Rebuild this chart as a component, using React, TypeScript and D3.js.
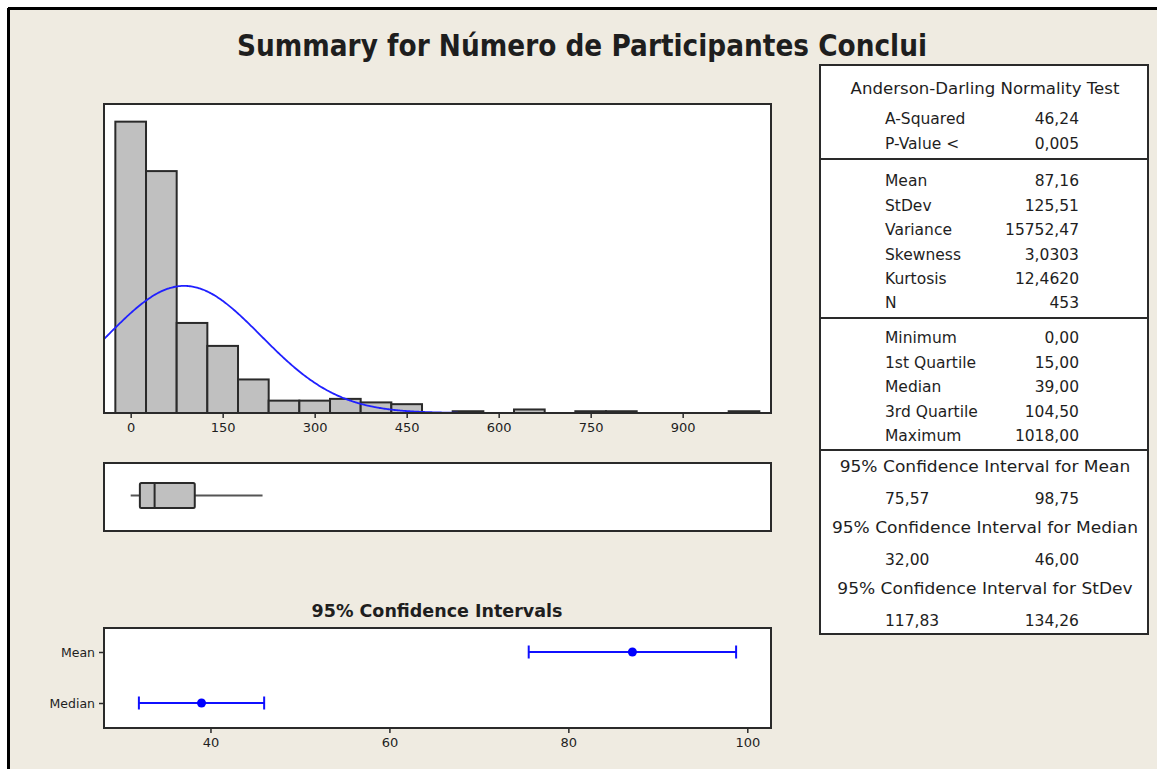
import React, { useEffect, useRef } from "react";
import * as d3 from "d3";

// histogram bins (width 50, centred on multiples of 50)
const binStarts = [-25, 25, 75, 125, 175, 225, 275, 325, 375, 425, 475, 525, 575, 625, 675, 725, 775, 825, 875, 925, 975];
const binCounts = [165, 137, 51, 38, 19, 7, 7, 8, 6, 5, 0, 1, 0, 2, 0, 1, 1, 0, 0, 0, 1];
const histTicks = [0, 150, 300, 450, 600, 750, 900];

// fitted normal
const fitMean = 87.16;
const fitSd = 125.51;
const fitN = 453;

// box plot: low whisker, Q1, median, Q3, high whisker
const boxValues = [0, 15, 39, 104.5, 215];

// 95% confidence intervals
const ciLabels = ["Mean", "Median"];
const ciCenters = [87.16, 39];
const ciLower = [75.57, 32];
const ciUpper = [98.75, 46];
const ciTicks = [40, 60, 80, 100];

// summary table
const adLabels = ["A-Squared", "P-Value <"];
const adValues = ["46,24", "0,005"];
const momentLabels = ["Mean", "StDev", "Variance", "Skewness", "Kurtosis", "N"];
const momentValues = ["87,16", "125,51", "15752,47", "3,0303", "12,4620", "453"];
const quantLabels = ["Minimum", "1st Quartile", "Median", "3rd Quartile", "Maximum"];
const quantValues = ["0,00", "15,00", "39,00", "104,50", "1018,00"];
const ciTitles = ["95% Confidence Interval for Mean", "95% Confidence Interval for Median", "95% Confidence Interval for StDev"];
const ciTableLow = ["75,57", "32,00", "117,83"];
const ciTableHigh = ["98,75", "46,00", "134,26"];

const FONT = "'DejaVu Sans', Verdana, sans-serif";
const INK = "#1e1e1e";

const App: React.FC = () => {
  const svgRef = useRef<SVGSVGElement | null>(null);

  useEffect(() => {
    if (!svgRef.current) return;
    const svg = d3.select(svgRef.current);
    svg.selectAll("*").remove();

    // background + frame
    svg.append("rect").attr("width", 1157).attr("height", 769).attr("fill", "#ffffff");
    svg.append("rect").attr("x", 8).attr("y", 8).attr("width", 1149).attr("height", 761).attr("fill", "#efebe1");
    svg.append("line").attr("x1", 8).attr("x2", 1157).attr("y1", 8.5).attr("y2", 8.5).attr("stroke", "#000").attr("stroke-width", 3);
    svg.append("line").attr("x1", 8.5).attr("x2", 8.5).attr("y1", 8).attr("y2", 769).attr("stroke", "#000").attr("stroke-width", 3);

    svg.append("text")
      .attr("x", 237).attr("y", 56)
      .attr("textLength", 690).attr("lengthAdjust", "spacingAndGlyphs")
      .attr("font-family", FONT).attr("font-weight", "bold").attr("font-size", 30)
      .attr("fill", INK)
      .text("Summary for Número de Participantes Conclui");

    const panel = (x0: number, y0: number, x1: number, y1: number) =>
      svg.append("rect").attr("x", x0).attr("y", y0).attr("width", x1 - x0).attr("height", y1 - y0)
        .attr("fill", "#fff").attr("stroke", "#2a2a2a").attr("stroke-width", 2);

    // ---------- histogram ----------
    const hx0 = 104, hx1 = 771, hy0 = 104, hy1 = 413;
    const x = d3.scaleLinear().domain([-43.5, 1044]).range([hx0, hx1]);
    const y = d3.scaleLinear().domain([0, 175]).range([hy1, hy0]);
    panel(hx0, hy0, hx1, hy1);

    const hist = svg.append("g");
    hist.selectAll("rect")
      .data(binStarts.map((s, i) => ({ s, c: binCounts[i] })).filter(d => d.c > 0))
      .enter().append("rect")
      .attr("x", d => x(d.s))
      .attr("width", d => x(d.s + 50) - x(d.s))
      .attr("y", d => y(d.c))
      .attr("height", d => hy1 - y(d.c))
      .attr("fill", "#c0c0c0").attr("stroke", "#2a2a2a").attr("stroke-width", 2);

    const curvePts = d3.range(-43.5, 1044, 2).map(v => {
      const z = (v - fitMean) / fitSd;
      return [v, (fitN * 50 * Math.exp(-0.5 * z * z)) / (fitSd * Math.sqrt(2 * Math.PI))] as [number, number];
    });
    hist.append("path")
      .attr("d", d3.line<[number, number]>().x(d => x(d[0])).y(d => y(d[1])).curve(d3.curveBasis)(curvePts) || "")
      .attr("fill", "none").attr("stroke", "#2020ff").attr("stroke-width", 1.8);

    svg.append("rect").attr("x", hx0).attr("y", hy0).attr("width", hx1 - hx0).attr("height", hy1 - hy0)
      .attr("fill", "none").attr("stroke", "#2a2a2a").attr("stroke-width", 2);

    const hAxis = svg.append("g").attr("transform", `translate(0,${hy1})`)
      .call(d3.axisBottom(x).tickValues(histTicks).tickSize(5).tickPadding(5).tickSizeOuter(0));
    hAxis.select(".domain").remove();
    hAxis.selectAll("line").attr("stroke", "#2a2a2a").attr("stroke-width", 1.5);
    hAxis.selectAll("text").attr("font-family", FONT).attr("font-size", 13).attr("fill", INK);

    // ---------- box plot ----------
    panel(104, 463, 771, 531);
    const by0 = 483, by1 = 508, bm = (by0 + by1) / 2;
    const [wLo, q1, med, q3, wHi] = boxValues;
    svg.append("line").attr("x1", x(wLo)).attr("x2", x(q1)).attr("y1", bm).attr("y2", bm).attr("stroke", "#555").attr("stroke-width", 2);
    svg.append("line").attr("x1", x(q3)).attr("x2", x(wHi)).attr("y1", bm).attr("y2", bm).attr("stroke", "#555").attr("stroke-width", 2);
    svg.append("rect").attr("x", x(q1)).attr("y", by0).attr("width", x(q3) - x(q1)).attr("height", by1 - by0)
      .attr("fill", "#c0c0c0").attr("stroke", "#2a2a2a").attr("stroke-width", 2).attr("rx", 1.5);
    svg.append("line").attr("x1", x(med)).attr("x2", x(med)).attr("y1", by0).attr("y2", by1).attr("stroke", "#2a2a2a").attr("stroke-width", 2);

    // ---------- confidence intervals ----------
    svg.append("text").attr("x", 437).attr("y", 617).attr("text-anchor", "middle")
      .attr("font-family", FONT).attr("font-weight", "bold").attr("font-size", 17.5).attr("fill", INK)
      .text("95% Confidence Intervals");
    const cx0 = 104, cx1 = 771, cy0 = 628, cy1 = 728;
    panel(cx0, cy0, cx1, cy1);
    const cx = d3.scaleLinear().domain([28.1, 102.65]).range([cx0, cx1]);
    const cy = d3.scalePoint().domain(ciLabels).range([652, 703]);

    const ci = svg.append("g").attr("stroke", "#1010ff").attr("stroke-width", 2);
    ciLabels.forEach((lab, i) => {
      const yy = cy(lab)!;
      ci.append("line").attr("x1", cx(ciLower[i])).attr("x2", cx(ciUpper[i])).attr("y1", yy).attr("y2", yy);
      ci.append("line").attr("x1", cx(ciLower[i])).attr("x2", cx(ciLower[i])).attr("y1", yy - 6.5).attr("y2", yy + 6.5);
      ci.append("line").attr("x1", cx(ciUpper[i])).attr("x2", cx(ciUpper[i])).attr("y1", yy - 6.5).attr("y2", yy + 6.5);
      ci.append("circle").attr("cx", cx(ciCenters[i])).attr("cy", yy).attr("r", 4.5).attr("fill", "#0000ff").attr("stroke", "none");
    });

    const cAxisX = svg.append("g").attr("transform", `translate(0,${cy1})`)
      .call(d3.axisBottom(cx).tickValues(ciTicks).tickSize(5).tickPadding(5).tickSizeOuter(0));
    cAxisX.select(".domain").remove();
    cAxisX.selectAll("line").attr("stroke", "#2a2a2a").attr("stroke-width", 1.5);
    cAxisX.selectAll("text").attr("font-family", FONT).attr("font-size", 13).attr("fill", INK);

    const cAxisY = svg.append("g").attr("transform", `translate(${cx0},0)`)
      .call(d3.axisLeft(cy).tickSize(5).tickPadding(4).tickSizeOuter(0));
    cAxisY.select(".domain").remove();
    cAxisY.selectAll("line").attr("stroke", "#2a2a2a").attr("stroke-width", 1.5);
    cAxisY.selectAll("text").attr("font-family", FONT).attr("font-size", 12.5).attr("fill", INK);

    // ---------- summary table ----------
    const tx0 = 820, tx1 = 1148;
    svg.append("rect").attr("x", tx0).attr("y", 65).attr("width", tx1 - tx0).attr("height", 634 - 65)
      .attr("fill", "#fff").attr("stroke", "#2a2a2a").attr("stroke-width", 2);
    [159, 318, 450].forEach(sy =>
      svg.append("line").attr("x1", tx0).attr("x2", tx1).attr("y1", sy).attr("y2", sy).attr("stroke", "#2a2a2a").attr("stroke-width", 2));

    const tbl = svg.append("g").attr("font-family", FONT).attr("font-size", 15.5).attr("fill", INK);
    const labX = 885, valX = 1079;
    const put = (t: string, xx: number, yy: number, anchor: string) =>
      tbl.append("text").attr("x", xx).attr("y", yy).attr("dy", "0.35em").attr("text-anchor", anchor).text(t);
    // stretch a header a little to match the wider original face
    const widen = (sel: d3.Selection<SVGTextElement, unknown, null, undefined>, k: number) => {
      const w = (sel.node() as SVGTextElement).getComputedTextLength();
      sel.attr("textLength", w * k).attr("lengthAdjust", "spacingAndGlyphs");
    };

    widen(put("Anderson-Darling Normality Test", 985, 89, "middle") as any, 1.07);
    adLabels.forEach((l, i) => { put(l, labX, 119 + i * 25, "start"); put(adValues[i], valX, 119 + i * 25, "end"); });
    momentLabels.forEach((l, i) => { put(l, labX, 181 + i * 24.4, "start"); put(momentValues[i], valX, 181 + i * 24.4, "end"); });
    quantLabels.forEach((l, i) => { put(l, labX, 338 + i * 24.5, "start"); put(quantValues[i], valX, 338 + i * 24.5, "end"); });
    ciTitles.forEach((l, i) => {
      const yy = 467 + i * 61;
      widen(put(l, 985, yy, "middle") as any, 1.1);
      put(ciTableLow[i], labX, yy + 31.5, "start");
      put(ciTableHigh[i], valX, yy + 31.5, "end");
    });
  }, []);

  return <svg ref={svgRef} width={1157} height={769} style={{ position: "absolute", left: 0, top: 0 }} />;
};

export default App;
